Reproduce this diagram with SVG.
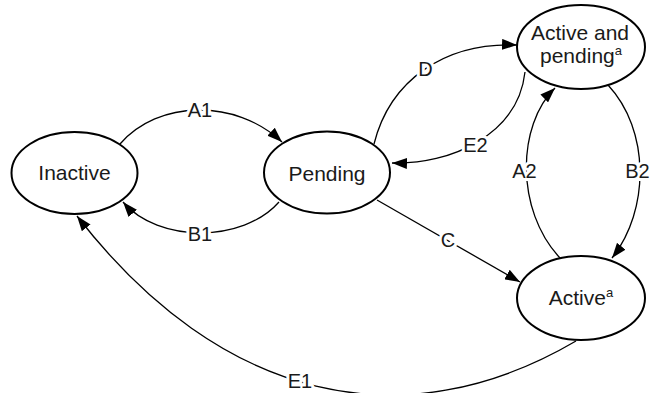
<svg xmlns="http://www.w3.org/2000/svg" width="657" height="393" viewBox="0 0 657 393">
<defs>
<marker id="arr" markerWidth="15" markerHeight="11" refX="15" refY="5.5" orient="auto" markerUnits="userSpaceOnUse">
<path d="M0,0 L15,5.5 L0,11 z" fill="#000"/>
</marker>
<style>
.edge{fill:none;stroke:#000;stroke-width:1.3;marker-end:url(#arr)}
.plain{fill:none;stroke:#000;stroke-width:1.3}
.node ellipse{fill:#fff;stroke:#000;stroke-width:2}
text{font-family:"Liberation Sans",Arial,sans-serif;fill:#1a1a1a}
.nt{font-size:21px;text-anchor:middle}
.lbl{font-size:20px;text-anchor:middle;stroke:#fff;stroke-width:6;paint-order:stroke;stroke-linejoin:round}
.sup{font-size:13px}
</style>
</defs>
<rect width="657" height="393" fill="#fff"/>
<g id="connectors">
<path id="A1" class="edge" d="M120,144 C158,100 235,98 282,142"/>
<path id="B1" class="edge" d="M279,202 C243,243 158,243 123,202"/>
<path id="C" class="edge" d="M377,200 L520,282"/>
<path id="D" class="edge" d="M374,144 C390,80 445,42 517,45"/>
<path id="E2" class="edge" d="M525,72 C518,135 450,165 392,163"/>
<path id="A2" class="edge" d="M560,258 C515,210 517,125 555,88"/>
<path id="B2" class="edge" d="M608,85 C650,130 650,210 612,258"/>
<path id="E1" class="edge" d="M576,341 C404,442 221,402 77,216"/>
<text class="lbl" x="200" y="117">A1</text>
<text class="lbl" x="200" y="241">B1</text>
<text class="lbl" x="448" y="247">C</text>
<text class="lbl" x="425.5" y="76">D</text>
<text class="lbl" x="475.5" y="152">E2</text>
<text class="lbl" x="524.5" y="178">A2</text>
<text class="lbl" x="637.5" y="178">B2</text>
<text class="lbl" x="300" y="388">E1</text>
</g>
<g id="inactive" class="node">
<ellipse cx="74.5" cy="173" rx="63" ry="41"/>
<text class="nt" x="74.5" y="180">Inactive</text>
</g>
<g id="pending" class="node">
<ellipse cx="327" cy="172.5" rx="63" ry="41"/>
<text class="nt" x="327" y="181">Pending</text>
</g>
<g id="active-and-pending" class="node">
<ellipse cx="581" cy="47" rx="64" ry="42"/>
<text class="nt" x="580" y="40">Active and</text>
<text class="nt" x="581" y="63">pending<tspan class="sup" dy="-8">a</tspan></text>
</g>
<g id="active" class="node">
<ellipse cx="581" cy="298" rx="64" ry="42"/>
<text class="nt" x="581" y="305">Active<tspan class="sup" dy="-8">a</tspan></text>
</g>
</svg>
